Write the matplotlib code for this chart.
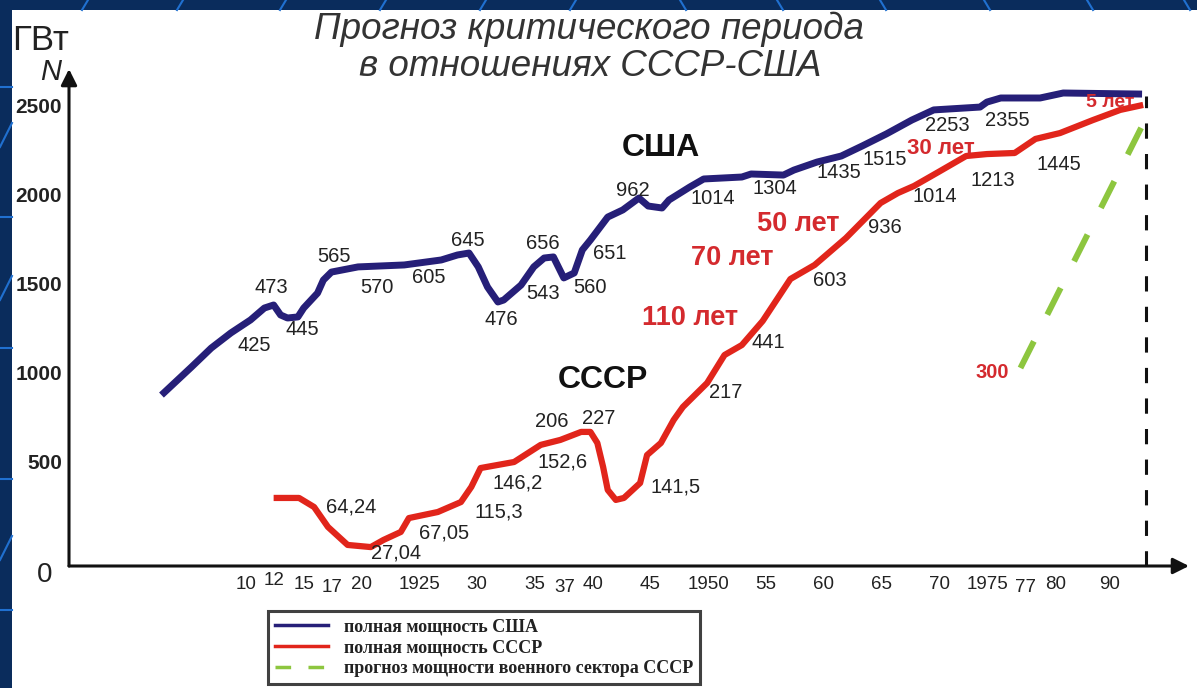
import numpy as np
import matplotlib
matplotlib.use("Agg")
import matplotlib.pyplot as plt
from matplotlib.lines import Line2D
from matplotlib.patches import Rectangle
from matplotlib.transforms import ScaledTranslation

plt.rcParams['font.family'] = ['Liberation Sans', 'DejaVu Sans']

# ---------------- data ----------------
usa_years = [1902.7, 1905.3, 1907.0, 1908.7, 1910.4, 1911.6, 1912.4, 1913.0, 1913.6, 1914.5,
             1915.0, 1916.2, 1916.7, 1917.4, 1919.7, 1923.7, 1926.9, 1928.3, 1929.3, 1930.1,
             1930.9, 1931.8, 1932.3, 1933.8, 1934.9, 1935.8, 1936.6, 1937.5, 1938.4, 1939.1,
             1939.8, 1941.3, 1942.6, 1944.0, 1944.8, 1946.0, 1946.6, 1948.4, 1949.6, 1952.9,
             1953.7, 1956.5, 1957.4, 1959.4, 1961.5, 1963.3, 1965.4, 1967.6, 1969.5, 1973.5,
             1974.1, 1975.3, 1978.7, 1981.5, 1998.9]
usa_power = [876, 1034, 1140, 1225, 1298, 1365, 1382, 1326, 1309, 1315,
             1365, 1449, 1522, 1567, 1596, 1607, 1635, 1663, 1674, 1596,
             1483, 1399, 1410, 1494, 1596, 1646, 1652, 1534, 1562, 1691,
             1747, 1876, 1916, 1983, 1938, 1927, 1972, 2045, 2090, 2101,
             2118, 2112, 2140, 2185, 2219, 2275, 2343, 2421, 2478, 2494,
             2522, 2545, 2545, 2573, 2567]

ussr_years = [1912.4, 1914.6, 1915.9, 1917.1, 1918.8, 1920.8, 1921.9, 1923.4, 1924.1, 1926.6,
              1928.6, 1929.5, 1930.3, 1933.2, 1935.5, 1937.2, 1939.0, 1939.8, 1940.4, 1940.9,
              1941.3, 1942.0, 1942.7, 1944.1, 1944.7, 1945.9, 1947.0, 1947.8, 1949.9, 1951.4,
              1952.9, 1954.7, 1957.1, 1959.2, 1961.9, 1964.9, 1966.4, 1967.8, 1969.9, 1972.3,
              1974.1, 1976.5, 1978.3, 1980.9, 1987.0, 1993.0, 1999.2]
ussr_power = [298, 298, 247, 135, 34, 22, 62, 107, 185, 219,
              275, 360, 466, 500, 596, 624, 669, 669, 607, 472,
              343, 287, 298, 382, 539, 607, 736, 809, 944, 1101,
              1157, 1292, 1528, 1607, 1758, 1955, 2011, 2051, 2129, 2219,
              2230, 2236, 2315, 2348, 2421, 2478, 2506]

mil_years = [1977.0, 2000.0]
mil_power = [1028, 2433]

critical_year = 2000
critical_top = 2555

x_tick_years = [1910, 1912, 1915, 1917, 1920, 1925, 1930, 1935, 1937, 1940, 1945, 1950,
                1955, 1960, 1965, 1970, 1975, 1977, 1980, 1990]
x_tick_labels = ["10", "12", "15", "17", "20", "1925", "30", "35", "37", "40", "45", "1950",
                 "55", "60", "65", "70", "1975", "77", "80", "90"]
y_ticks = [500, 1000, 1500, 2000, 2500]
y_tick_labels = ["500", "1000", "1500", "2000", "2500"]

usa_notes = ["473", "425", "445", "565", "570", "605", "645", "476", "543", "656",
             "560", "651", "962", "1014", "1304", "1435", "1515", "2253", "2355", "1445"]
usa_note_x = [1912.2, 1910.7, 1914.9, 1917.6, 1921.3, 1925.8, 1929.2, 1932.1, 1935.7, 1935.7,
              1939.8, 1941.5, 1943.5, 1950.4, 1955.8, 1961.3, 1965.3, 1970.7, 1975.9, 1980.6]
usa_note_y = [1478, 1157, 1242, 1652, 1483, 1539, 1747, 1303, 1449, 1730,
              1483, 1674, 2028, 1983, 2039, 2129, 2202, 2388, 2421, 2169]

ussr_notes = ["64,24", "27,04", "67,05", "115,3", "146,2", "152,6", "206", "227", "141,5",
              "217", "441", "603", "936", "1014", "1213"]
ussr_note_x = [1919.1, 1923.0, 1927.1, 1931.9, 1933.5, 1937.4, 1936.5, 1940.5, 1947.2,
               1951.5, 1955.2, 1960.5, 1965.3, 1969.6, 1974.6]
ussr_note_y = [247, -11, 101, 219, 382, 500, 725, 747, 360,
               888, 1174, 1522, 1815, 1989, 2079]

lag_notes = ["110 лет", "70 лет", "50 лет", "30 лет", "5 лет", "300"]
lag_note_x = [1948.4, 1952.1, 1957.8, 1970.1, 1990.3, 1974.6]
lag_note_y = [1309, 1646, 1837, 2264, 2517, 1000]
lag_note_size = [19.5, 19.5, 19.5, 16, 14, 14.5]

country_notes = ["США", "СССР"]
country_note_x = [1945.9, 1940.9]
country_note_y = [2264, 961]

legend_labels = ["полная мощность США", "полная мощность СССР",
                 "прогноз мощности военного сектора СССР"]

# ---------------- style ----------------
W, H = 1197, 688
C_BLUE = '#261f78'
C_RED = '#e1251b'
C_LRED = '#d42a2e'
C_GREEN = '#8dc63f'
C_TXT = '#222222'


def fx(px):
    return px / W


def fy(py):
    return 1 - py / H


fig = plt.figure(figsize=(W / 100, H / 100), dpi=100, facecolor='#0a2c5c')
fig.patches.append(Rectangle((fx(12), 0), 1, fy(10), transform=fig.transFigure,
                             facecolor='white', edgecolor='none', zorder=-5))

# decorative template lines in the dark frame
deco = '#2070d0'
for x0, d in [(85, 1), (180, 1), (283, 1), (383, 1), (483, 1), (573, 1), (683, -1),
              (780, -1), (883, -1), (987, -1), (1090, -1), (1187, -1)]:
    fig.add_artist(Line2D([fx(x0 - 3 * d), fx(x0 + 3 * d)], [fy(10), fy(0)],
                          transform=fig.transFigure, color=deco, lw=1.5, zorder=-4))
for y0 in [87, 217, 348, 479, 610]:
    fig.add_artist(Line2D([fx(0), fx(12)], [fy(y0), fy(y0)],
                          transform=fig.transFigure, color=deco, lw=1.5, zorder=-4))
for y0 in [147, 300, 560]:
    fig.add_artist(Line2D([fx(0), fx(12)], [fy(y0), fy(y0 - 24)],
                          transform=fig.transFigure, color=deco, lw=1.5, zorder=-4))

# x axis: linear in years up to 1980, compressed afterwards (as in the drawing)
scale_years = [1880, 1980, 1990, 2000, 2030]
scale_pos = [1880, 1980, 1984.67, 1987.87, 1997.46]


def fwd(x):
    return np.interp(x, scale_years, scale_pos)


def inv(p):
    return np.interp(p, scale_pos, scale_years)


ax = fig.add_axes([fx(69), fy(566), (1189 - 69) / W, (566 - 72) / H])
ax.patch.set_visible(False)
ax.set_xscale('function', functions=(fwd, inv))
ax.set_xlim(1894.7, 2011.6)
ax.set_ylim(-84.3, 2691)
for s in ax.spines.values():
    s.set_visible(False)

# axes with arrows
arrow_kw = dict(arrowstyle='-|>', lw=2.2, color='#111111', mutation_scale=24,
                shrinkA=0, shrinkB=0)
ax.annotate('', xy=(1, 0), xytext=(0, 0), xycoords='axes fraction',
            textcoords='axes fraction', arrowprops=arrow_kw)
ax.annotate('', xy=(0, 1.006), xytext=(0, 0), xycoords='axes fraction',
            textcoords='axes fraction', arrowprops=arrow_kw)

# lines
ax.plot(usa_years, usa_power, color=C_BLUE, lw=5, solid_capstyle='butt',
        solid_joinstyle='round', clip_on=False)
ax.plot(ussr_years, ussr_power, color=C_RED, lw=4.5, solid_capstyle='butt',
        solid_joinstyle='round', clip_on=False)
ax.plot(mil_years, mil_power, color=C_GREEN, lw=4.3, dashes=(5, 5), dash_capstyle='butt')
ax.vlines(critical_year, ax.get_ylim()[0], critical_top, colors='#111111', lw=2.2,
          linestyles=(0, (5, 5)))

# ticks
ax.set_xticks(x_tick_years, x_tick_labels)
ax.set_yticks(y_ticks, y_tick_labels)
ax.xaxis.set_minor_locator(matplotlib.ticker.NullLocator())
ax.tick_params(axis='x', length=0, pad=7, labelsize=13.5, labelcolor=C_TXT)
ax.tick_params(axis='y', length=0, pad=5, labelsize=15, labelcolor=C_TXT)
for lab in ax.get_yticklabels():
    lab.set_fontweight('bold')
x_offsets = {"12": (5, -4), "17": (5, 3), "37": (7, 3), "1975": (-10, 0), "77": (5, 3)}
for lab, txt in zip(ax.get_xticklabels(), x_tick_labels):
    if txt in x_offsets:
        dx, dy = x_offsets[txt]
        lab.set_transform(lab.get_transform() +
                          ScaledTranslation(dx / 100, -dy / 100, fig.dpi_scale_trans))

fig.text(fx(45), fy(575), "0", ha='center', va='center', fontsize=20, color=C_TXT)
fig.text(fx(12), fy(40), "ГВт", ha='left', va='center', fontsize=25, color=C_TXT)
fig.text(fx(51), fy(72), "N", ha='center', va='center', fontsize=21, style='italic',
         color=C_TXT)

# title
fig.text(fx(589), fy(29), "Прогноз критического периода", ha='center', va='center',
         fontsize=26.5, style='italic', color='#333333')
fig.text(fx(590), fy(66), "в отношениях СССР-США", ha='center', va='center',
         fontsize=26.5, style='italic', color='#333333')

# annotations
for s, x, y in zip(usa_notes, usa_note_x, usa_note_y):
    ax.text(x, y, s, ha='center', va='center', fontsize=14.5, color=C_TXT)
for s, x, y in zip(ussr_notes, ussr_note_x, ussr_note_y):
    ax.text(x, y, s, ha='center', va='center', fontsize=14.5, color=C_TXT)
for s, x, y, fs in zip(lag_notes, lag_note_x, lag_note_y, lag_note_size):
    ax.text(x, y, s, ha='center', va='center', fontsize=fs, color=C_LRED,
            fontweight='bold')
for s, x, y in zip(country_notes, country_note_x, country_note_y):
    ax.text(x, y, s, ha='center', va='center', fontsize=23, color='#111111',
            fontweight='bold')

# legend
handles = [Line2D([], [], color=C_BLUE, lw=2.5),
           Line2D([], [], color=C_RED, lw=2.5),
           Line2D([], [], color=C_GREEN, lw=2.5, dashes=(4.5, 5))]
leg = fig.legend(handles, legend_labels, loc='upper left',
                 bbox_to_anchor=(fx(268), fy(611)), bbox_transform=fig.transFigure,
                 borderaxespad=0, frameon=True, fancybox=False, handlelength=2.9,
                 handletextpad=0.9, labelspacing=0.22, borderpad=0.4,
                 prop={'family': ['Liberation Serif'], 'weight': 'bold', 'size': 13})
leg.get_frame().set_edgecolor('#111111')
leg.get_frame().set_linewidth(2.2)
for t in leg.get_texts():
    t.set_color(C_TXT)

fig.savefig("out.png", dpi=100, facecolor=fig.get_facecolor())
